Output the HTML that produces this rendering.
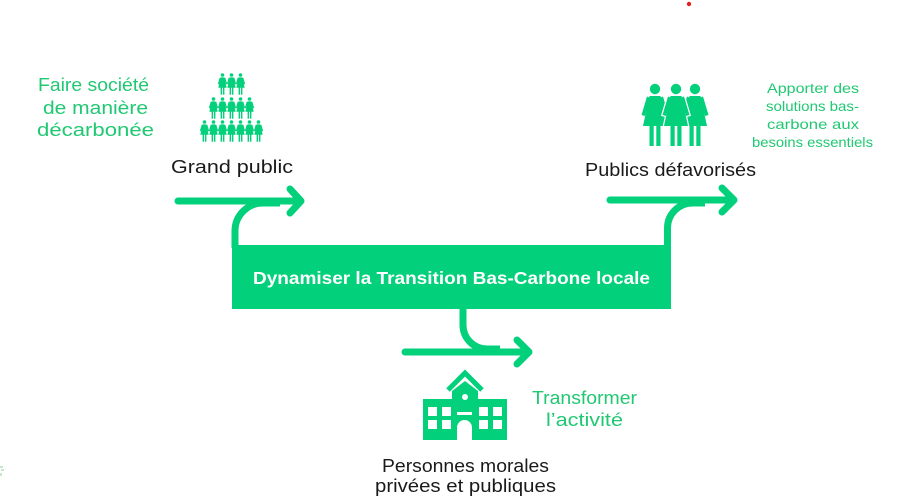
<!DOCTYPE html>
<html>
<head>
<meta charset="utf-8">
<style>
  html,body{margin:0;padding:0;background:#fff;}
  body{width:913px;height:499px;overflow:hidden;}
  svg{display:block;}
  text{font-family:"Liberation Sans", sans-serif;}
</style>
</head>
<body>
<svg width="913" height="499" viewBox="0 0 913 499" xmlns="http://www.w3.org/2000/svg">
  <defs>
    <symbol id="w" viewBox="0 0 26 62" overflow="visible">
      <circle cx="13" cy="5" r="5.2"/>
      <polygon points="7.5,12 18.5,12 25,42 1,42"/>
      <polygon points="5,12.5 8.5,14 3,32 -0.5,31"/>
      <polygon points="21,12.5 17.5,14 23,32 26.5,31"/>
      <rect x="7.5" y="41" width="4.2" height="21"/>
      <rect x="14.3" y="41" width="4.2" height="21"/>
    </symbol>
  </defs>

  <!-- red dot -->
  <circle cx="689" cy="4" r="2.2" fill="#e42121"/>

  <!-- main box -->
  <rect x="232" y="245" width="439" height="64" fill="#02d07b"/>
  <text x="253" y="284" font-size="17.5" font-weight="bold" fill="#fff" textLength="397" lengthAdjust="spacingAndGlyphs">Dynamiser la Transition Bas-Carbone locale</text>

  <g fill="none" stroke="#02d07b" stroke-width="7" stroke-linecap="round" stroke-linejoin="round">
    <!-- left arrow -->
    <path d="M178,201 H300"/>
    <path d="M290,189 L301,201 L290,213"/>
    <path d="M235,248 V231 A28,28 0 0 1 263,203 H280" stroke-linecap="butt"/>
    <!-- right arrow -->
    <path d="M610,200 H733"/>
    <path d="M722,188 L734,200 L722,212"/>
    <path d="M667.5,248 V228 A25,25 0 0 1 692.5,203 H705" stroke-linecap="butt"/>
    <!-- bottom arrow -->
    <path d="M405,352 H527"/>
    <path d="M517,340 L529,352 L517,364"/>
    <path d="M463,306 V325 A24,24 0 0 0 487,349 H500" stroke-linecap="butt"/>
  </g>

  <!-- people pyramid -->
  <g fill="#02d07b">
    <use href="#w" x="218" y="73" width="9" height="22"/>
    <use href="#w" x="227" y="73" width="9" height="22"/>
    <use href="#w" x="236" y="73" width="9" height="22"/>

    <use href="#w" x="209" y="97" width="9" height="22"/>
    <use href="#w" x="218" y="97" width="9" height="22"/>
    <use href="#w" x="227" y="97" width="9" height="22"/>
    <use href="#w" x="236" y="97" width="9" height="22"/>
    <use href="#w" x="245" y="97" width="9" height="22"/>

    <use href="#w" x="200" y="120" width="9" height="22"/>
    <use href="#w" x="209" y="120" width="9" height="22"/>
    <use href="#w" x="218" y="120" width="9" height="22"/>
    <use href="#w" x="227" y="120" width="9" height="22"/>
    <use href="#w" x="236" y="120" width="9" height="22"/>
    <use href="#w" x="245" y="120" width="9" height="22"/>
    <use href="#w" x="254" y="120" width="9" height="22"/>
  </g>

  <!-- three women -->
  <g>
    <use href="#w" x="642" y="84" width="26" height="62" fill="#02d07b"/>
    <use href="#w" x="682" y="84" width="26" height="62" fill="#02d07b"/>
    <use href="#w" x="663" y="84" width="26" height="62" fill="#fff" stroke="#fff" stroke-width="2.5"/>
    <use href="#w" x="663" y="84" width="26" height="62" fill="#02d07b"/>
  </g>

  <!-- building -->
  <g>
    <polyline points="448,390 465,373 482,390" fill="none" stroke="#02d07b" stroke-width="5" stroke-linejoin="miter"/>
    <polygon points="452,400 452,391 465,381 478,391 478,400" fill="#02d07b"/>
    <rect x="423" y="399" width="84" height="41" fill="#02d07b"/>
    <circle cx="465" cy="397" r="3" fill="#fff"/>
    <g fill="#fff">
      <rect x="428" y="407" width="9" height="9"/>
      <rect x="442" y="407" width="9" height="9"/>
      <rect x="428" y="420" width="9" height="9"/>
      <rect x="442" y="420" width="9" height="9"/>
      <rect x="479" y="407" width="9" height="9"/>
      <rect x="493" y="407" width="9" height="9"/>
      <rect x="479" y="420" width="9" height="9"/>
      <rect x="493" y="420" width="9" height="9"/>
      <rect x="457" y="412" width="15" height="3"/>
      <path d="M457,440 V427.5 A7.5,7.5 0 0 1 472,427.5 V440 Z"/>
    </g>
  </g>

  <!-- black labels -->
  <g fill="#1a1a1a" font-size="18">
    <text x="171" y="173" textLength="122" lengthAdjust="spacingAndGlyphs">Grand public</text>
    <text x="585" y="176" textLength="171" lengthAdjust="spacingAndGlyphs">Publics défavorisés</text>
    <text x="382" y="472" textLength="167" lengthAdjust="spacingAndGlyphs">Personnes morales</text>
    <text x="375" y="492" textLength="181" lengthAdjust="spacingAndGlyphs">privées et publiques</text>
  </g>

  <!-- green labels -->
  <g fill="#21c873" font-size="18">
    <text x="38" y="91" textLength="111" lengthAdjust="spacingAndGlyphs">Faire société</text>
    <text x="43" y="114" textLength="105" lengthAdjust="spacingAndGlyphs">de manière</text>
    <text x="37" y="136" textLength="117" lengthAdjust="spacingAndGlyphs">décarbonée</text>
    <text x="532" y="404" textLength="105" lengthAdjust="spacingAndGlyphs">Transformer</text>
    <text x="546" y="426" textLength="77" lengthAdjust="spacingAndGlyphs">l’activité</text>
  </g>
  <g fill="#21c873" font-size="14">
    <text x="767" y="93" textLength="92" lengthAdjust="spacingAndGlyphs">Apporter des</text>
    <text x="766" y="111" textLength="93" lengthAdjust="spacingAndGlyphs">solutions bas-</text>
    <text x="767" y="129" textLength="92" lengthAdjust="spacingAndGlyphs">carbone aux</text>
    <text x="752" y="147" textLength="121" lengthAdjust="spacingAndGlyphs">besoins essentiels</text>
  </g>

  <!-- faint mark bottom-left -->
  <g fill="#a8d8a8" opacity="0.6">
    <rect x="0" y="466" width="3" height="2"/>
    <rect x="1" y="469" width="3" height="2"/>
    <rect x="0" y="473" width="2" height="3"/>
  </g>
</svg>
</body>
</html>
